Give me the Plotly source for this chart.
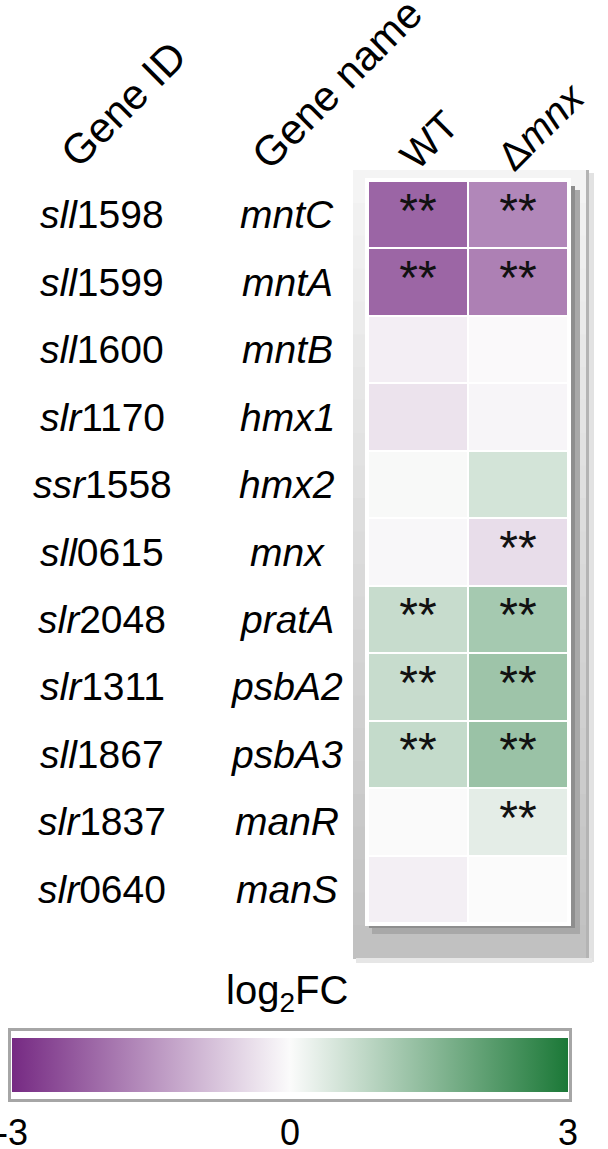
import plotly.graph_objects as go

W, H = 608, 1149

GENE_IDS = [
    "<i>sll</i>1598", "<i>sll</i>1599", "<i>sll</i>1600", "<i>slr</i>1170",
    "<i>ssr</i>1558", "<i>sll</i>0615", "<i>slr</i>2048", "<i>slr</i>1311",
    "<i>sll</i>1867", "<i>slr</i>1837", "<i>slr</i>0640",
]
GENE_NAMES = ["mntC", "mntA", "mntB", "hmx1", "hmx2", "mnx",
              "pratA", "psbA2", "psbA3", "manR", "manS"]
STRAINS = ["WT", "Δmnx"]
STRAIN_LABELS = ["WT", "Δ<i>mnx</i>"]

# log2 fold change
LOG2FC_WT = [-2.16, -2.14, -0.18, -0.34, 0.04, -0.06, 0.70, 0.70, 0.74, -0.02, -0.17]
LOG2FC_MNX = [-1.66, -1.77, -0.03, -0.08, 0.53, -0.43, 1.15, 1.25, 1.30, 0.31, 0.0]

# ** marks
SIG_WT = [True, True, False, False, False, False, True, True, True, False, False]
SIG_MNX = [True, True, False, False, False, True, True, True, True, True, False]

CBAR_TICKS = [-3, 0, 3]
CBAR_TICKTEXT = ["-3", "0", "3"]

PURPLE = "#762a83"
GREEN = "#1b7837"
FONT = "Liberation Sans, Arial, sans-serif"


def px_x(x):
    return x / W


def px_y(y):
    return 1 - y / H


def rect(x0, y0, x1, y1, fill, line_color=None, line_width=0):
    return dict(
        type="rect", xref="paper", yref="paper", layer="below",
        x0=px_x(x0), x1=px_x(x1), y0=px_y(y1), y1=px_y(y0),
        fillcolor=fill,
        line=dict(color=line_color or fill, width=line_width),
    )


z = [[wt, mnx] for wt, mnx in zip(LOG2FC_WT, LOG2FC_MNX)]

fig = go.Figure()
fig.add_trace(go.Heatmap(
    x=STRAINS, y=GENE_NAMES, z=z,
    zmin=-3, zmax=3,
    colorscale=[[0, PURPLE], [0.5, "#fbfbfb"], [1, GREEN]],
    xgap=2, ygap=2,
    hoverinfo="skip",
    colorbar=dict(
        orientation="h",
        x=px_x(290), xanchor="center",
        y=px_y(1038), yanchor="top",
        len=556, lenmode="pixels",
        thickness=54, thicknessmode="pixels",
        xpad=0, ypad=0,
        outlinewidth=0,
        tickvals=CBAR_TICKS, ticktext=CBAR_TICKTEXT,
        ticks="outside", ticklen=10, tickcolor="rgba(0,0,0,0)",
        ticklabeloverflow="allow",
        tickfont=dict(family=FONT, size=36, color="black"),
    ),
))

star_x, star_y = [], []
for gene, wt, mnx in zip(GENE_NAMES, SIG_WT, SIG_MNX):
    if wt:
        star_x.append(STRAINS[0])
        star_y.append(gene)
    if mnx:
        star_x.append(STRAINS[1])
        star_y.append(gene)

fig.add_trace(go.Scatter(
    x=star_x, y=star_y, mode="text", text=["**"] * len(star_x),
    textposition="middle center",
    textfont=dict(family=FONT, size=48, color="#111111"),
    hoverinfo="skip", showlegend=False,
))

# grey panel behind the heat map (light at top, darker at bottom)
shapes = []
top, bottom, n = 170, 958, 24
for i in range(n):
    y0 = top + (bottom - top) * i / n
    y1 = top + (bottom - top) * (i + 1) / n + 1
    g = int(244 - (244 - 193) * i / (n - 1))
    shapes.append(rect(353, y0, 586, y1, f"rgb({g},{g},{g})"))
shapes.append(rect(586, top, 589, bottom, "#b4b4b4"))
shapes.append(rect(589, top + 3, 594, bottom + 4, "#e2e2e2"))
shapes.append(rect(356, bottom, 592, bottom + 5, "#e6e6e6"))
# drop shadow + white frame of the cells
shapes.append(rect(372, 190, 580, 934, "#a8a8a8"))
shapes.append(rect(369, 186, 575, 928, "#8e8e8e"))
shapes.append(rect(365, 178, 571, 926, "white"))
# colour bar frame
shapes.append(rect(9.5, 1029.5, 570.5, 1100.5, "white", "#a6a6a6", 3))

annotations = []
for gid, gname in zip(GENE_IDS, GENE_NAMES):
    annotations.append(dict(
        x=px_x(102), xref="paper", y=gname, yref="y",
        text=gid, showarrow=False, xanchor="center", yanchor="middle",
        font=dict(family=FONT, size=39, color="black"),
    ))
    annotations.append(dict(
        x=px_x(287), xref="paper", y=gname, yref="y",
        text=f"<i>{gname}</i>", showarrow=False, xanchor="center", yanchor="middle",
        font=dict(family=FONT, size=39, color="black"),
    ))

for text, cx, cy in [("Gene ID", 123, 104), ("Gene name", 336, 84)]:
    annotations.append(dict(
        x=px_x(cx), xref="paper", y=px_y(cy), yref="paper",
        text=text, textangle=-45, showarrow=False,
        xanchor="center", yanchor="middle",
        font=dict(family=FONT, size=42, color="black"),
    ))
for strain, label, shift, cy in zip(STRAINS, STRAIN_LABELS, [11, 23], [140, 126]):
    annotations.append(dict(
        x=strain, xref="x", y=px_y(cy), yref="paper", xshift=shift,
        text=label, textangle=-45, showarrow=False,
        xanchor="center", yanchor="middle",
        font=dict(family=FONT, size=40, color="black"),
    ))

annotations.append(dict(
    x=px_x(287), xref="paper", y=px_y(1020), yref="paper",
    text="log<sub>2</sub>FC", showarrow=False,
    xanchor="center", yanchor="bottom",
    font=dict(family=FONT, size=40, color="black"),
))

fig.update_layout(
    width=W, height=H,
    margin=dict(l=0, r=0, t=0, b=0, pad=0, autoexpand=False),
    paper_bgcolor="white", plot_bgcolor="white",
    showlegend=False,
    shapes=shapes,
    annotations=annotations,
    xaxis=dict(domain=[px_x(368), px_x(568)], range=[-0.5, 1.5],
               showticklabels=False, showgrid=False, zeroline=False, ticks=""),
    yaxis=dict(domain=[px_y(923), px_y(181)], range=[10.5, -0.5],
               showticklabels=False, showgrid=False, zeroline=False, ticks=""),
)

# the page body has an 8px default margin; drop it so the figure fills the window
fig.write_html(
    "out.html",
    config={"displayModeBar": False},
    post_script="document.body.style.margin='0';document.body.style.overflow='hidden';",
)
